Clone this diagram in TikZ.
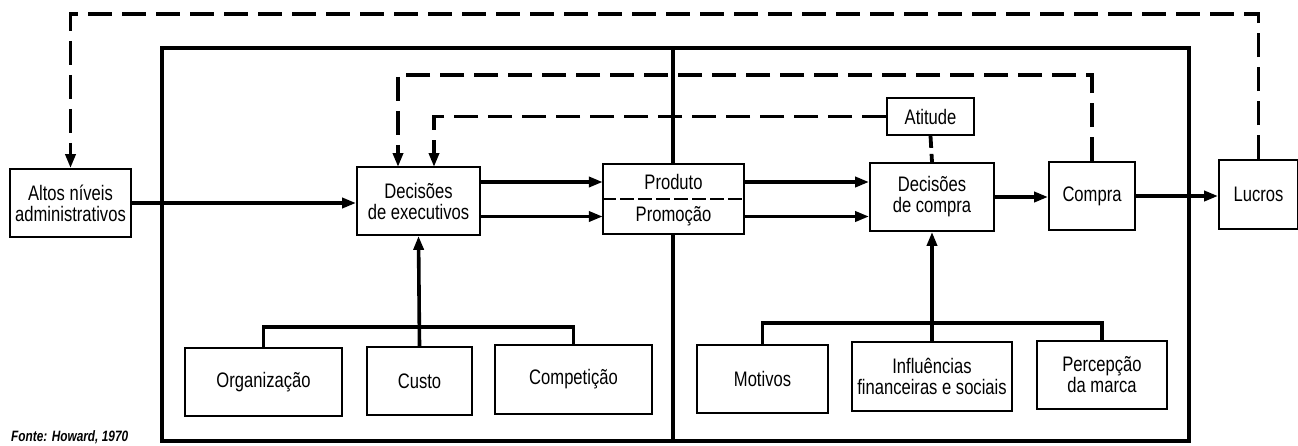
\documentclass[tikz,border=0pt]{standalone}
\usepackage{fontspec}
\setmainfont{Liberation Sans}[FakeStretch=0.79]
\usetikzlibrary{arrows.meta}
\begin{document}
\begin{tikzpicture}[x=1pt,y=-1pt,
  box/.style={draw,line width=1.8pt,inner sep=0pt,align=center,font=\fontsize{21}{21}\selectfont},
  txt/.style={inner sep=0pt,align=center,font=\fontsize{21}{21}\selectfont},
  arr/.style={line width=3.6pt,-{Triangle[length=14pt,width=10pt]}},
  ln/.style={line width=3.6pt},
  dsh/.style={line width=3.8pt,dash pattern=on 24pt off 10pt},
  darr/.style={dsh,-{Triangle[length=14pt,width=10pt]}},
  frame/.style={line width=3.6pt}
]
\useasboundingbox (0,0) rectangle (1298,445);
% frame
\draw[frame] (162,48) rectangle (1189,441);
\draw[frame] (673,48) -- (673,164);
\draw[frame] (673,234) -- (673,441);
% nodes
\node[box,minimum width=121pt,minimum height=68pt] (altos) at (70.5,203) {Altos níveis\\administrativos};
\node[box,minimum width=123pt,minimum height=68pt] (exec) at (418.5,201) {Decisões\\de executivos};
\node[box,minimum width=141pt,minimum height=70pt,fill=white] (pp) at (673.5,199) {};
\node[txt,minimum width=141pt,minimum height=35pt] (prod) at (673.5,182) {Produto};
\node[txt,minimum width=141pt,minimum height=35pt] (prom) at (673.5,216.5) {Promoção};
\draw[line width=1.6pt,dash pattern=on 14pt off 4pt] (pp.west) -- (pp.east);
\node[box,minimum width=124pt,minimum height=68pt] (cdec) at (932,197) {Decisões\\de compra};
\node[box,minimum width=87pt,minimum height=37pt] (atit) at (930.5,116.5) {Atitude};
\node[box,minimum width=86pt,minimum height=68pt] (compra) at (1092,196) {Compra};
\node[box,minimum width=79pt,minimum height=69pt] (lucros) at (1258.5,194.5) {Lucros};
\node[box,minimum width=157pt,minimum height=68pt] (org) at (263.5,382) {Organização};
\node[box,minimum width=105pt,minimum height=68pt] (custo) at (419.5,381) {Custo};
\node[box,minimum width=157pt,minimum height=69pt] (comp) at (573.5,379.5) {Competição};
\node[box,minimum width=131pt,minimum height=68pt] (motiv) at (762.5,379) {Motivos};
\node[box,minimum width=160pt,minimum height=69pt] (influ) at (932,376.5) {Influências\\financeiras e sociais};
\node[box,minimum width=130pt,minimum height=68pt] (perc) at (1102,375) {Percepção\\da marca};
\node[anchor=west,inner sep=0pt,font=\fontsize{15}{15}\selectfont\bfseries\itshape] (fonte) at (11,437) {Fonte: Howard, 1970};
% solid arrows
\draw[arr] (altos.east) -- (exec.west |- altos.east);
\draw[arr] (exec.east |- prod.center) -- (prod.west);
\draw[arr] (exec.east |- prom.center) -- (prom.west);
\draw[arr] (prod.east) -- (cdec.west |- prod.east);
\draw[arr] (prom.east) -- (cdec.west |- prom.east);
\draw[arr] (cdec.east) -- (compra.west |- cdec.east);
\draw[arr] (compra.east) -- (lucros.west |- compra.east);
% brackets
\draw[ln] (org.north) -- (263.5,327) -- (573.5,327) -- (comp.north);
\draw[arr] (custo.north) -- (exec.south);
\draw[ln] (motiv.north) -- (762.5,323) -- (1102,323) -- (perc.north);
\draw[arr] (influ.north) -- (cdec.south);
% dashed feedback
\draw[darr] (lucros.north) -- (1258.5,14) -- (70.5,14) -- (altos.north);
\draw[darr] (compra.north) -- (1092,75) -- (398,75) -- (398,167);
\draw[darr] (atit.west) -- (434,116.5) -- (434,167);
\draw[dsh,dash pattern=on 12pt off 6pt] (atit.south) -- (cdec.north);
\end{tikzpicture}
\end{document}
